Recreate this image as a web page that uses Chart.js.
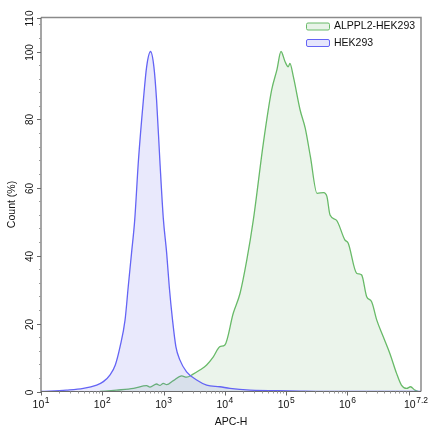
<!DOCTYPE html>
<html><head><meta charset="utf-8">
<script src="https://cdn.jsdelivr.net/npm/chart.js@4.4.1/dist/chart.umd.min.js"></script>
<style>html,body{margin:0;padding:0;background:#fff}canvas{display:block}</style>
</head><body>
<canvas id="c" width="440" height="440" style="width:440px;height:440px"></canvas>
<script>
// ---- data (APC-H intensity, Count %) ----
const seriesNames = ['ALPPL2-HEK293', 'HEK293'];
const alpplApc = [91, 171, 324, 529, 600, 769, 870, 989, 1123, 1442, 1976, 2372, 3030, 3900, 5043, 6477, 8302, 10000, 13700, 17700, 22800, 29100, 42400, 58000, 70600, 82400, 96000, 108000, 115000, 131000, 169000, 205000, 249000, 319000, 409000, 463000, 520000, 660000, 907000, 1030000, 1410000, 1700000, 2060000, 2480000, 3010000, 3840000, 4920000, 6310000, 7590000, 9240000, 10700000, 12600000, 14400000];
const alpplCount = [0, 0.4, 0.9, 1.7, 1.3, 2.2, 1.8, 2.4, 2.0, 3.2, 4.6, 4.2, 5.1, 6.3, 7.8, 10.2, 13.2, 13.7, 23, 28.9, 38.7, 50.4, 73, 88.7, 94.6, 100, 97, 95.5, 96.5, 92.6, 82.8, 77.4, 69, 58.3, 58.5, 57.3, 51.9, 50.4, 44.6, 43.6, 34.8, 34.3, 27.9, 26.4, 21, 16.1, 11.2, 5.4, 1.9, 0.9, 1.4, 0.4, 0];
const hekApc = [10, 26, 49, 81, 104, 134, 163, 195, 235, 265, 300, 338, 389, 468, 529, 613, 695, 769, 869, 989, 1123, 1238, 1400, 1587, 1842, 2372, 3464, 5043, 8302, 12100, 25600, 115000, 760000, 15800000];
const hekCount = [0, 0.4, 0.9, 1.9, 2.9, 4.9, 7.8, 13.2, 21, 30.8, 40.7, 50.4, 68, 85.7, 95.5, 100, 95.5, 85.7, 68, 51, 40.7, 30.8, 21, 13.2, 9.3, 5.8, 3.4, 1.9, 1.4, 0.9, 0.4, 0.2, 0, 0];
const xTickBase = '10';
const xTickExponents = ['1', '2', '3', '4', '5', '6', '7.2'];
const yTickValues = [0, 20, 40, 60, 80, 100, 110];
const xTitle = 'APC-H';
const yTitle = 'Count (%)';

const pts = (xs, ys) => xs.map((v, i) => ({x: v, y: ys[i]}));

const FONT = '"Liberation Sans", Arial, sans-serif';

const decor = {
  id: 'decor',
  afterDatasetsDraw(chart) {
    const {ctx, chartArea: a, scales: {x, y}} = chart;
    ctx.save();
    // frame top/right
    ctx.strokeStyle = '#8a8a8a'; ctx.lineWidth = 1.5;
    ctx.beginPath(); ctx.moveTo(a.left, a.top); ctx.lineTo(a.right, a.top); ctx.lineTo(a.right, a.bottom); ctx.stroke();
    // axes
    ctx.strokeStyle = '#6a6a6a'; ctx.lineWidth = 1.2;
    ctx.beginPath(); ctx.moveTo(a.left, a.top); ctx.lineTo(a.left, a.bottom); ctx.lineTo(a.right, a.bottom); ctx.stroke();
    // y minor ticks
    ctx.strokeStyle = '#9a9a9a'; ctx.lineWidth = 1;
    for (let v = 4; v < 110; v += 4) {
      if (v % 20 === 0) continue;
      const py = Math.round(y.getPixelForValue(v)) + 0.5;
      ctx.beginPath(); ctx.moveTo(a.left - 2, py); ctx.lineTo(a.left, py); ctx.stroke();
    }
    // y major ticks + labels
    ctx.strokeStyle = '#6a6a6a';
    ctx.fillStyle = '#111';
    ctx.font = '10px ' + FONT;
    ctx.textAlign = 'center'; ctx.textBaseline = 'middle';
    yTickValues.forEach(v => {
      const py = Math.round(y.getPixelForValue(v)) + 0.5;
      ctx.beginPath(); ctx.moveTo(a.left - 4, py); ctx.lineTo(a.left, py); ctx.stroke();
      ctx.save(); ctx.translate(a.left - 11, py); ctx.rotate(-Math.PI / 2);
      ctx.fillText(String(v), 0, 0); ctx.restore();
    });
    // x minor ticks
    ctx.strokeStyle = '#9a9a9a';
    const maxV = Math.pow(10, 7.2);
    for (let d = 1; d <= 7; d++) {
      for (let m = 2; m <= 9; m++) {
        const v = m * Math.pow(10, d);
        if (v > maxV) continue;
        const px = Math.round(x.getPixelForValue(v)) + 0.5;
        ctx.beginPath(); ctx.moveTo(px, a.bottom); ctx.lineTo(px, a.bottom + 2); ctx.stroke();
      }
    }
    // x major ticks
    ctx.strokeStyle = '#6a6a6a';
    for (let d = 1; d <= 7; d++) {
      const px = Math.round(x.getPixelForValue(Math.pow(10, d))) + 0.5;
      ctx.beginPath(); ctx.moveTo(px, a.bottom); ctx.lineTo(px, a.bottom + 4); ctx.stroke();
    }
    // x labels with superscripts
    ctx.textAlign = 'left'; ctx.textBaseline = 'alphabetic';
    xTickExponents.forEach(e => {
      const v = Math.pow(10, parseFloat(e));
      let cx = x.getPixelForValue(v);
      ctx.font = '10.5px ' + FONT;
      const wb = ctx.measureText(xTickBase).width;
      ctx.font = '8.5px ' + FONT;
      const we = ctx.measureText(e).width;
      const w = wb + we + 0.5;
      cx = Math.min(cx, 428 - w / 2);
      const left = cx - w / 2;
      ctx.font = '10.5px ' + FONT;
      ctx.fillText(xTickBase, left, 408);
      ctx.font = '8.5px ' + FONT;
      ctx.fillText(e, left + wb + 0.5, 403);
    });
    // titles
    ctx.font = '10.5px ' + FONT;
    ctx.textAlign = 'center'; ctx.textBaseline = 'middle';
    ctx.fillText(xTitle, (a.left + a.right) / 2, 422);
    ctx.save(); ctx.translate(12, (a.top + a.bottom) / 2); ctx.rotate(-Math.PI / 2);
    ctx.fillText(yTitle, 0, 0); ctx.restore();
    // legend
    ctx.font = '10.5px ' + FONT;
    ctx.textAlign = 'left'; ctx.textBaseline = 'middle';
    chart.data.datasets.forEach((ds, i) => {
      const cy = 26 + i * 16.5;
      const bx = 306, bw = 23, bh = 7;
      ctx.fillStyle = ds.legendFill;
      ctx.strokeStyle = ds.borderColor; ctx.lineWidth = 1;
      ctx.beginPath();
      if (ctx.roundRect) ctx.roundRect(bx + 0.5, cy - bh / 2 + 0.5, bw, bh, 1.5); else ctx.rect(bx + 0.5, cy - bh / 2 + 0.5, bw, bh);
      ctx.fill(); ctx.stroke();
      ctx.fillStyle = '#111';
      ctx.fillText(ds.label, 334, cy + 0.5);
    });
    ctx.restore();
  }
};

new Chart(document.getElementById('c'), {
  type: 'line',
  data: {
    datasets: [
      {
        label: seriesNames[0],
        data: pts(alpplApc, alpplCount),
        borderColor: 'rgb(104,186,104)',
        backgroundColor: 'rgba(110,180,110,0.14)',
        legendFill: 'rgb(232,243,232)',
        fill: 'origin', borderWidth: 1.3, pointRadius: 0,
        cubicInterpolationMode: 'monotone', order: 1
      },
      {
        label: seriesNames[1],
        data: pts(hekApc, hekCount),
        borderColor: 'rgb(100,100,245)',
        backgroundColor: 'rgba(110,110,235,0.15)',
        legendFill: 'rgb(230,230,252)',
        fill: 'origin', borderWidth: 1.3, pointRadius: 0,
        cubicInterpolationMode: 'monotone', order: 0
      }
    ]
  },
  options: {
    responsive: false, animation: false, devicePixelRatio: 1,
    layout: {padding: {left: 41, top: 17.5, right: 19, bottom: 48.5}},
    plugins: {legend: {display: false}, tooltip: {enabled: false}},
    scales: {
      x: {type: 'logarithmic', min: 10, max: Math.pow(10, 7.2), display: false},
      y: {type: 'linear', min: 0, max: 110, display: false}
    }
  },
  plugins: [decor]
});
</script>
</body></html>
